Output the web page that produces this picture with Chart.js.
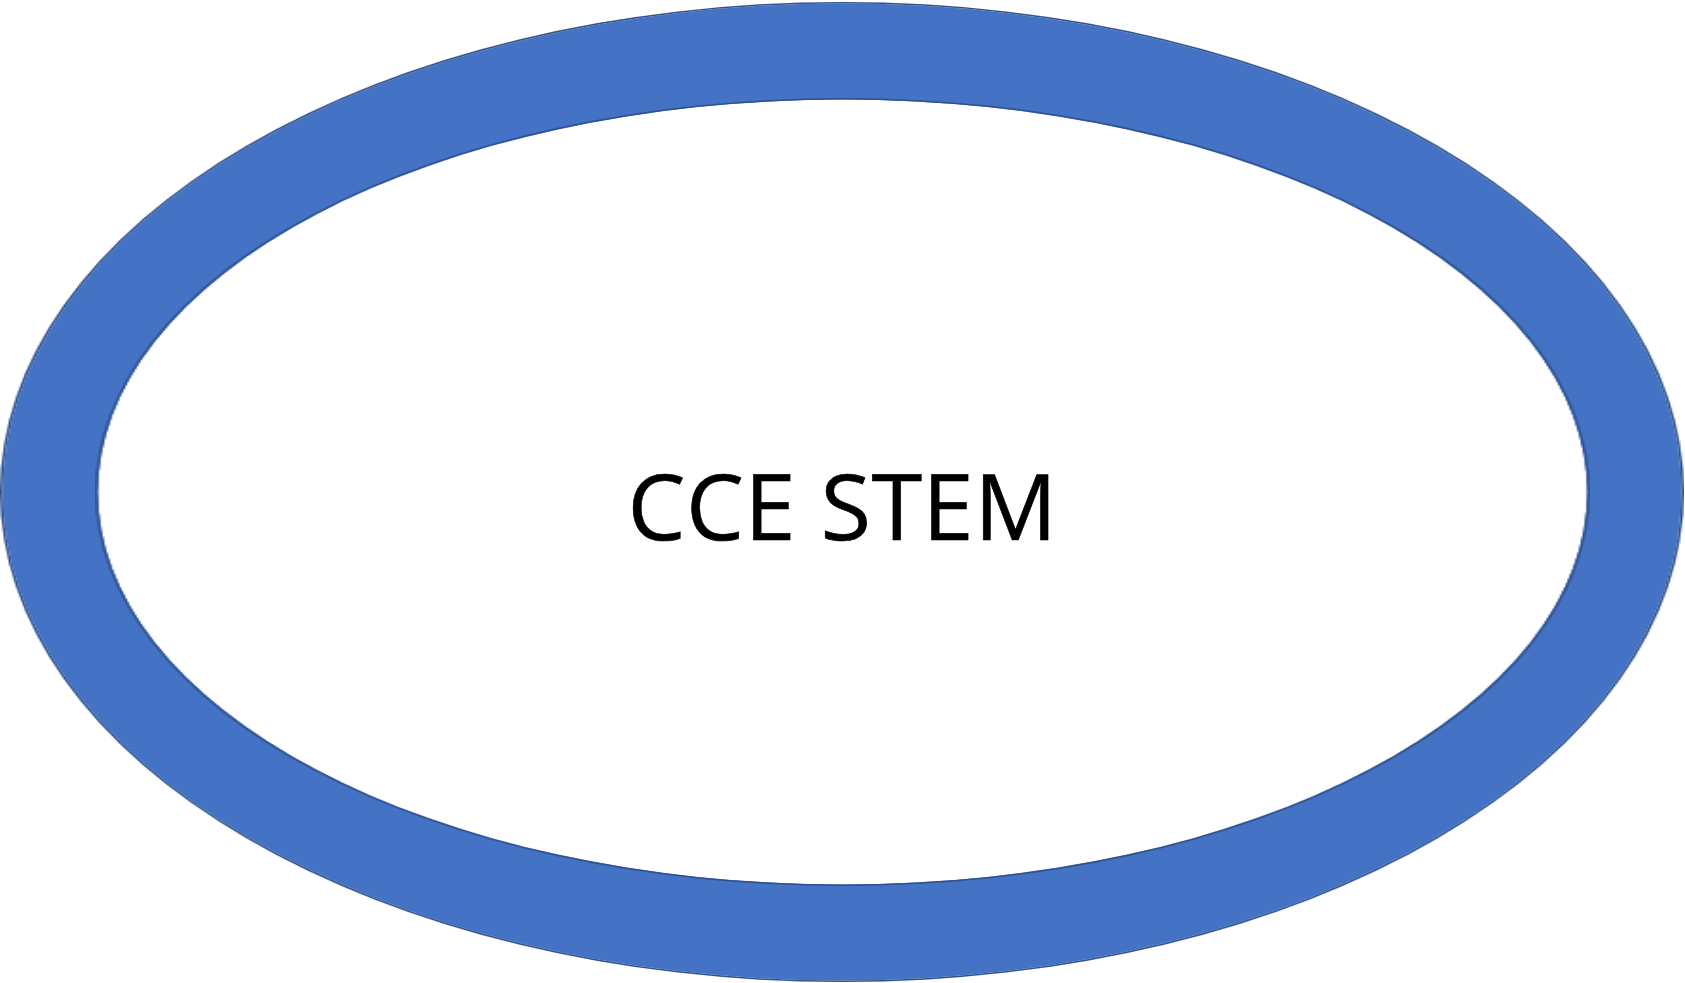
<!DOCTYPE html>
<html>
<head>
<meta charset="utf-8">
<script src="https://cdn.jsdelivr.net/npm/chart.js@4"></script>
<style>
  html, body { margin: 0; padding: 0; background: #fff; }
  body { width: 1685px; height: 983px; position: relative; overflow: hidden; }
  .shape { position: absolute; transform-origin: 0 0; }
  #label {
    position: absolute; left: 0; width: 1685px; top: 459px;
    text-align: center; font-family: "Open Sans", sans-serif;
    font-size: 92px; line-height: 1; color: #000; letter-spacing: 0.5px;
    -webkit-text-stroke: 0.6px #000;
  }
</style>
</head>
<body>
<div class="shape" id="outerBox"><canvas id="outerRing" width="980" height="980"></canvas></div>
<div class="shape" id="innerBox"><canvas id="innerHole" width="788" height="788"></canvas></div>
<div id="label">CCE STEM</div>
<script>
  const labels = ['CCE STEM'];
  const edgeValues = [1];
  const fillValues = [1];

  const edgeColor = '#2F528F';
  const ringColor = '#4472C4';

  // outer ellipse: center 842,492 rx 842 ry 490 ; inner: rx 747 ry 394
  function place(boxId, left, top, w, h, size) {
    const box = document.getElementById(boxId);
    box.style.left = left + 'px';
    box.style.top = top + 'px';
    box.style.transform = 'scale(' + (w / size) + ',' + (h / size) + ')';
  }
  place('outerBox', 0, 2, 1684, 980, 980);
  place('innerBox', 95, 98, 1495, 788, 788);

  // radius in canvas px; edge ring is ~1.5px thick
  function makePie(id, fill, radius) {
    const ctx = document.getElementById(id).getContext('2d');
    return new Chart(ctx, {
      type: 'pie',
      data: {
        labels: labels,
        datasets: [
          { data: edgeValues, backgroundColor: edgeColor, borderWidth: 0, weight: 1.5 },
          { data: fillValues, backgroundColor: fill, borderWidth: 0, weight: radius - 1.5 },
        ],
      },
      options: {
        responsive: false,
        animation: false,
        devicePixelRatio: 1,
        layout: { padding: 0 },
        plugins: {
          legend: { display: false },
          tooltip: { enabled: false },
        },
        events: [],
      },
    });
  }

  makePie('outerRing', ringColor, 490);
  makePie('innerHole', '#ffffff', 394);
</script>
</body>
</html>
